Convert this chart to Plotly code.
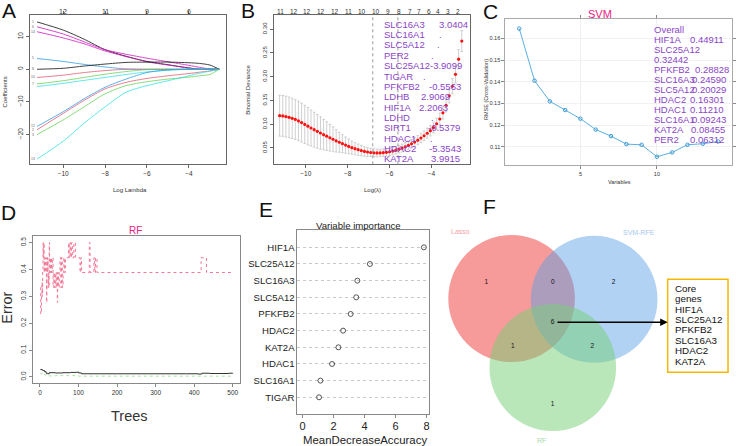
import plotly.graph_objects as go

# ---------------- DATA ----------------
# A: LASSO coefficient paths (log lambda grid)
lasso_loglam = [-11.25, -10.0, -9.0, -8.0, -7.0, -6.0, -5.0, -4.0, -3.5, -3.0, -2.55]
path_black1 = [14.5, 12.0, 9.2, 6.0, 4.0, 2.4, 1.4, 0.4, 0.0, 0.0, 0.0]
path_mag1 = [13.0, 10.8, 8.4, 6.0, 4.6, 3.4, 2.3, 1.2, 0.6, 0.1, 0.0]
path_mag2 = [11.5, 9.6, 7.8, 5.6, 3.9, 2.3, 1.3, 0.4, 0.0, 0.0, 0.0]
path_blue1 = [3.3, 2.4, 1.5, 0.7, 0.1, 0.0, 0.0, 0.0, 0.0, 0.0, 0.0]
path_black2 = [0.0, 0.3, 1.0, 1.6, 2.1, 2.2, 2.2, 2.0, 1.8, 1.3, 0.0]
path_red1 = [-2.5, -1.8, -1.0, -0.4, 0.0, 0.0, 0.0, 0.0, 0.0, 0.0, 0.0]
path_green1 = [-4.5, -3.5, -2.5, -1.5, -0.7, -0.1, 0.0, 0.0, 0.0, 0.0, 0.0]
path_cyan1 = [-5.3, -4.3, -3.4, -2.5, -1.6, -0.8, -0.3, 0.0, 0.0, 0.0, 0.0]
path_blue2 = [-17.5, -13.0, -9.0, -5.5, -3.0, -1.0, -0.2, 0.0, 0.0, 0.0, 0.0]
path_red2 = [-18.5, -13.5, -9.5, -6.0, -4.0, -2.8, -2.0, -1.3, -0.9, -0.5, 0.0]
path_green2 = [-20.0, -15.5, -11.5, -7.5, -5.0, -3.8, -3.0, -2.4, -2.0, -1.6, 0.0]
path_cyan2 = [-27.5, -22.0, -16.5, -11.5, -7.0, -5.0, -3.5, -2.0, -1.2, -0.6, 0.0]
lasso_paths = [path_black1, path_mag1, path_mag2, path_blue1, path_black2, path_red1,
               path_green1, path_cyan1, path_blue2, path_red2, path_green2, path_cyan2]
lasso_path_labels = ["1", "6", "14", "5", "8", "10", "7", "", "12", "2", "3", "13"]
lasso_top_ticks = [-10, -8, -6, -4]
lasso_top_labels = ["12", "11", "9", "6"]

# B: cross-validated binomial deviance
cv_loglam = [-11.25, -11.10, -10.95, -10.80, -10.65, -10.50, -10.35, -10.20, -10.05, -9.90,
             -9.75, -9.60, -9.45, -9.30, -9.15, -9.00, -8.85, -8.70, -8.55, -8.40,
             -8.25, -8.10, -7.95, -7.80, -7.65, -7.50, -7.35, -7.20, -7.05, -6.90,
             -6.75, -6.60, -6.45, -6.30, -6.15, -6.00, -5.85, -5.70, -5.55, -5.40,
             -5.25, -5.10, -4.95, -4.80, -4.65, -4.50, -4.35, -4.20, -4.05, -3.90,
             -3.75, -3.60, -3.45, -3.30, -3.15, -3.00, -2.85, -2.70, -2.55]
cv_mean = [0.118, 0.1175, 0.116, 0.1145, 0.1125, 0.110, 0.107, 0.1035, 0.0995, 0.0958,
           0.092, 0.0885, 0.085, 0.0815, 0.078, 0.0748, 0.0715, 0.0683, 0.065, 0.062,
           0.059, 0.056, 0.0533, 0.0507, 0.0484, 0.0463, 0.0445, 0.0428, 0.0415, 0.0405,
           0.0398, 0.0395, 0.0396, 0.040, 0.0408, 0.042, 0.0435, 0.0453, 0.0474, 0.0498,
           0.0525, 0.0555, 0.0588, 0.0625, 0.0665, 0.071, 0.0757, 0.081, 0.0865, 0.093,
           0.101, 0.111, 0.124, 0.140, 0.160, 0.180, 0.205, 0.237, 0.275]
cv_sd = [0.043, 0.043, 0.043, 0.0428, 0.0425, 0.042, 0.0415, 0.041, 0.0402, 0.0395,
         0.038, 0.0368, 0.0355, 0.034, 0.032, 0.030, 0.028, 0.026, 0.0235, 0.021,
         0.019, 0.017, 0.0155, 0.014, 0.013, 0.012, 0.011, 0.010, 0.0093, 0.0088,
         0.0084, 0.0082, 0.008, 0.008, 0.008, 0.008, 0.008, 0.008, 0.008, 0.0083,
         0.0086, 0.0089, 0.009, 0.0093, 0.0096, 0.010, 0.0103, 0.0106, 0.011, 0.0115,
         0.012, 0.0125, 0.013, 0.014, 0.015, 0.016, 0.018, 0.020, 0.022]
cv_top_pos = [-11.22, -10.55, -9.92, -9.25, -8.62, -7.97, -7.30, -6.65, -6.08, -5.57,
              -5.03, -4.57, -4.13, -3.68, -3.22, -2.75]
cv_top_labels = ["11", "12", "12", "12", "12", "11", "10", "10", "9", "8", "7", "7", "6", "4", "3", "2"]
cv_lambda_lines = [-6.8, -5.6]
cv_genes = ["SLC16A3", "SLC16A1", "SLC5A12", "PER2", "SLC25A12", "TIGAR", "PFKFB2",
            "LDHB", "HIF1A", "LDHD", "SIRT1", "HDAC1", "HDAC2", "KAT2A"]
cv_coefs = ["3.0404", ".", ".", ".", "-3.9099", ".", "-0.5563",
            "2.9069", "2.2063", ".", "-0.5379", ".", "-5.3543", "3.9915"]

# C: SVM-RFE
svm_vars = [1, 2, 3, 4, 5, 6, 7, 8, 9, 10, 11, 12, 13, 14]
svm_rmse = [0.1645, 0.1405, 0.131, 0.127, 0.123, 0.118, 0.115, 0.1113, 0.111, 0.1055,
            0.1075, 0.111, 0.1115, 0.1125]
svm_genes = ["HIF1A", "SLC25A12", "PFKFB2", "SLC16A3", "SLC5A12", "HDAC2", "HDAC1",
             "SLC16A1", "KAT2A", "PER2"]
svm_weights = ["0.44911", "0.32442", "0.28828", "0.24590", "0.20029", "0.16301", "0.11210",
               "0.09243", "0.08455", "0.06312"]

# D: random forest error
rf_red_trees = [1, 2, 4, 5, 6, 7, 8, 9, 10, 11, 12, 14, 15, 16, 17, 18, 19, 20, 21, 22,
                23, 24, 25, 26, 27, 28, 29, 30, 32, 34, 36, 38, 40, 42, 44, 45, 46, 48, 50,
                52, 54, 56, 58, 60, 62, 64, 66, 74, 76, 78, 80, 82, 84, 88, 92, 104, 106,
                108, 128, 130, 140, 142, 144, 148, 418, 432, 500]
rf_red_err = [0.333, 0.235, 0.30, 0.353, 0.30, 0.40, 0.50, 0.444, 0.50, 0.389, 0.444, 0.389,
              0.444, 0.389, 0.278, 0.444, 0.389, 0.444, 0.333, 0.389, 0.333, 0.50, 0.444,
              0.389, 0.444, 0.389, 0.444, 0.389, 0.444, 0.333, 0.389, 0.333, 0.389, 0.333,
              0.389, 0.278, 0.389, 0.333, 0.389, 0.444, 0.333, 0.444, 0.333, 0.389, 0.444,
              0.389, 0.444, 0.50, 0.444, 0.50, 0.444, 0.50, 0.444, 0.50, 0.444, 0.389,
              0.444, 0.389, 0.50, 0.389, 0.444, 0.389, 0.444, 0.389, 0.444, 0.389, 0.389]
rf_oob_trees = [1, 5, 8, 12, 16, 20, 24, 40, 60, 80, 95, 100, 108, 200, 380, 410, 420, 440, 480, 490, 500]
rf_oob_err = [0.028, 0.026, 0.024, 0.020, 0.014, 0.012, 0.016, 0.015, 0.016, 0.017, 0.018,
              0.015, 0.012, 0.012, 0.012, 0.011, 0.014, 0.013, 0.013, 0.014, 0.013]
rf_grn_trees = [1, 5, 12, 20, 40, 100, 500]
rf_grn_err = [0.012, 0.015, 0.008, 0.004, 0.005, 0.003, 0.003]

# E: variable importance
imp_genes = ["HIF1A", "SLC25A12", "SLC16A3", "SLC5A12", "PFKFB2", "HDAC2", "KAT2A",
             "HDAC1", "SLC16A1", "TIGAR"]
imp_values = [7.83, 4.35, 3.54, 3.47, 3.11, 2.62, 2.32, 1.91, 1.16, 1.07]

# F: Venn
venn_sets = ["Lasso", "SVM-RFE", "RF"]
venn_counts = [1, 0, 2, 6, 1, 2, 1]   # L, L&S, S, all, L&R, S&R, R
core_genes = ["HIF1A", "SLC25A12", "PFKFB2", "SLC16A3", "HDAC2", "KAT2A"]

# ---------------- STYLE / LAYOUT ----------------
W, H = 736, 446
FONT = "Liberation Sans, Arial, sans-serif"
PURPLE = "#8b45c8"
PINK = "#e8207f"
R_COLS = ["#000000", "#CD0BBC", "#CD0BBC", "#2297E6", "#000000", "#DF536B",
          "#61D04F", "#28E2E5", "#2297E6", "#DF536B", "#61D04F", "#28E2E5"]
OVER_SIZE = 9.5


def fx(px):
    return px / W


def fy(py):
    return 1 - py / H


fig = go.Figure()
annotations = []
shapes = []


def ann(text, px, py, size, color="#222", xa="center", ya="middle", angle=0, **kw):
    annotations.append(dict(text=text, x=fx(px), y=fy(py), xref="paper", yref="paper",
                            showarrow=False, xanchor=xa, yanchor=ya, textangle=angle,
                            font=dict(size=size, color=color, family=FONT), **kw))


# ---- A ----
for i, path in enumerate(lasso_paths):
    fig.add_trace(go.Scatter(x=lasso_loglam, y=path, mode="lines", xaxis="x", yaxis="y",
                             line=dict(color=R_COLS[i], width=1, shape="spline", smoothing=0.7),
                             opacity=0.75, hoverinfo="skip"))
    if lasso_path_labels[i]:
        annotations.append(dict(text=lasso_path_labels[i], x=-11.45, y=path[0], xref="x", yref="y",
                                showarrow=False, font=dict(size=3.5, color="#666", family=FONT)))
for v, t in zip(lasso_top_ticks, lasso_top_labels):
    annotations.append(dict(text=t, x=v, y=fy(6), xref="x", yref="paper", showarrow=False,
                            font=dict(size=7, color="#333", family=FONT)))

# ---- B ----
fig.add_trace(go.Scatter(x=cv_loglam, y=cv_mean, mode="markers", xaxis="x2", yaxis="y2",
                         marker=dict(color="#ff1010", size=3.2),
                         error_y=dict(type="data", array=cv_sd, symmetric=True, color="#c4c4c4",
                                      thickness=0.8, width=1.3),
                         hoverinfo="skip"))
for v in cv_lambda_lines:
    shapes.append(dict(type="line", xref="x2", yref="y2 domain", x0=v, x1=v, y0=0, y1=1,
                       line=dict(color="#9a9a9a", width=1, dash="dot")))
for v, t in zip(cv_top_pos, cv_top_labels):
    annotations.append(dict(text=t, x=v, y=fy(6), xref="x2", yref="paper", showarrow=False,
                            font=dict(size=6.5, color="#333", family=FONT)))
coef_x = [437.7, 438.3, 435.7, 430, 429.5, 421.7, 428.5, 420, 417.7, 430, 427.5, 429, 428.5, 430]
for i, (g, c) in enumerate(zip(cv_genes, cv_coefs)):
    yy = 24.3 + i * 10.34
    ann(g, 383.3, yy, OVER_SIZE, PURPLE, xa="left")
    ann(c, coef_x[i], yy, OVER_SIZE, PURPLE, xa="left")

# ---- C ----
fig.add_trace(go.Scatter(x=svm_vars, y=svm_rmse, mode="lines+markers", xaxis="x3", yaxis="y3",
                         line=dict(color="#5cb0e2", width=1),
                         marker=dict(symbol="circle-open", size=3.5, color="#3d9bd6", line=dict(width=1)),
                         hoverinfo="skip"))
c_lines = [("Overall", None)]
for g, w in zip(svm_genes, svm_weights):
    if g == "SLC25A12":
        c_lines.append((g, None))
        c_lines.append((w, None))
    else:
        c_lines.append((g, w))
val_x = {"HIF1A": 690, "PFKFB2": 695, "SLC16A3": 692, "SLC5A12": 692, "HDAC2": 690,
         "HDAC1": 690, "SLC16A1": 692, "KAT2A": 691.3, "PER2": 690}
for i, (g, w) in enumerate(c_lines):
    yy = 29.3 + i * 10.06
    ann(g, 653.3, yy, OVER_SIZE, PURPLE, xa="left")
    if w is not None:
        ann(w, val_x[g], yy, OVER_SIZE, PURPLE, xa="left")

# ---- D ----
fig.add_trace(go.Scatter(x=rf_grn_trees, y=rf_grn_err, mode="lines", xaxis="x4", yaxis="y4",
                         line=dict(color="#a8e6a0", width=1, dash="dot", shape="hv"), hoverinfo="skip"))
fig.add_trace(go.Scatter(x=rf_red_trees, y=rf_red_err, mode="lines", xaxis="x4", yaxis="y4",
                         line=dict(color="#f27896", width=1, dash="dot", shape="hv"), hoverinfo="skip"))
fig.add_trace(go.Scatter(x=rf_oob_trees, y=rf_oob_err, mode="lines", xaxis="x4", yaxis="y4",
                         line=dict(color="#333333", width=1, shape="hv"), hoverinfo="skip"))

# ---- E ----
imp_rows = list(range(1, len(imp_genes) + 1))
fig.add_trace(go.Scatter(x=imp_values, y=imp_rows, mode="markers", xaxis="x5", yaxis="y5",
                         marker=dict(symbol="circle-open", size=5, color="#444", line=dict(width=0.9)),
                         hoverinfo="skip"))

# ---- F ----
circles = [(513.0, 298.5, "rgba(238,62,62,0.52)"),
           (595.8, 299.3, "rgba(92,160,228,0.48)"),
           (554.3, 367.5, "rgba(118,208,118,0.5)")]
R = 63.5
for cx, cy, col in circles:
    shapes.append(dict(type="circle", xref="x6", yref="y6", x0=cx - R, x1=cx + R,
                       y0=cy - R, y1=cy + R, fillcolor=col, line=dict(width=0), layer="below"))
count_pos = [(487.7, 282.7), (554.3, 282.0), (615.3, 282.0), (554.0, 322.3),
             (514.3, 346.0), (594.0, 346.0), (554.0, 404.0)]
fig.add_trace(go.Scatter(x=[p[0] for p in count_pos], y=[p[1] for p in count_pos],
                         text=[str(c) for c in venn_counts], mode="text", xaxis="x6", yaxis="y6",
                         textfont=dict(size=6.5, color="#111", family=FONT), hoverinfo="skip"))
set_label_pos = [(461.7, 232.0, "#f5a3a8"), (640.7, 232.3, "#a9c9ee"), (543.3, 440.7, "#a8dca8")]
for name, (px, py, col) in zip(venn_sets, set_label_pos):
    ann(name, px, py, 7, col)
annotations.append(dict(x=669.5, y=322.3, ax=557.5, ay=322.3, xref="x6", yref="y6",
                        axref="x6", ayref="y6", text="", showarrow=True, arrowhead=2,
                        arrowsize=1, arrowwidth=1.5, arrowcolor="#000"))
shapes.append(dict(type="rect", xref="paper", yref="paper", x0=fx(669.5), x1=fx(730),
                   y0=fy(372.3), y1=fy(279.3), line=dict(color="#f5b800", width=1.5)))
box_lines = ["Core", "genes"] + core_genes
for i, t in enumerate(box_lines):
    ann(t, 675.3, 288.3 + i * 10.4, 9.8, "#111", xa="left")

# ---- titles & labels ----
ann("A", 9, 11, 21, "#111")
ann("B", 249, 11, 21, "#111")
ann("C", 492, 12, 21, "#111")
ann("D", 9, 213, 21, "#111")
ann("E", 267, 209, 21, "#111")
ann("F", 491, 206, 21, "#111")

ann("Log Lambda", 130, 190.5, 6, "#333")
ann("Coefficients", 5.5, 92, 6, "#333", angle=-90)
ann("Log(\u03bb)", 373.3, 190.5, 6, "#333")
ann("Binomial Deviance", 248.5, 90, 6, "#333", angle=-90)
ann("SVM", 601.7, 14, 11, PINK)
ann("RMSE (Cross-Validation)", 487.3, 89, 5.5, "#333", angle=-90)
ann("Variables", 620.7, 182, 5.5, "#333")
ann("RF", 135.5, 230, 10, PINK)
ann("Error", 7.5, 307.3, 14.5, "#333", angle=-90)
ann("Trees", 130, 416, 14.5, "#333")
ann("Variable importance", 359, 225.7, 9.6, "#222")
ann("MeanDecreaseAccuracy", 366, 440, 11.4, "#222")

# ---- axes ----
def ax(**kw):
    d = dict(showgrid=False, zeroline=False, showline=True, linecolor="#666", linewidth=1,
             ticks="outside", ticklen=3, tickcolor="#666", tickwidth=1,
             tickfont=dict(size=7, color="#333", family=FONT), mirror=True)
    d.update(kw)
    return d

layout_axes = dict(
    xaxis=ax(domain=[fx(30), fx(227)], range=[-11.59, -2.21], anchor="y",
             tickvals=[-10, -8, -6, -4], mirror="ticks", tickfont=dict(size=6.5, color="#333", family=FONT)),
    yaxis=ax(domain=[fy(164), fy(15)], range=[-29.0, 16.62], anchor="x",
             tickvals=[-20, -10, 0, 10], tickangle=-90, tickfont=dict(size=6.5, color="#333", family=FONT)),
    xaxis2=ax(domain=[fx(274.3), fx(471)], range=[-11.54, -2.17], anchor="y2",
              tickvals=[-10, -8, -6, -4], tickfont=dict(size=6.5, color="#333", family=FONT)),
    yaxis2=ax(domain=[fy(164.3), fy(15)], range=[0.0156, 0.330], anchor="x2",
              tickvals=[0.05, 0.10, 0.15, 0.20, 0.25, 0.30],
              ticktext=["0.05", "0.10", "0.15", "0.20", "0.25", "0.30"], tickangle=-90,
              tickfont=dict(size=6, color="#333", family=FONT)),
    xaxis3=ax(domain=[fx(506.7), fx(734)], range=[0.09, 14.91], anchor="y3", tickvals=[5, 10],
              mirror="ticks", showgrid=True, gridcolor="#efefef", linecolor="#aaa", tickcolor="#888",
              tickfont=dict(size=5.5, color="#333", family=FONT)),
    yaxis3=ax(domain=[fy(165), fy(19)], range=[0.1017, 0.1689], anchor="x3",
              tickvals=[0.11, 0.12, 0.13, 0.14, 0.15, 0.16],
              ticktext=["0.11", "0.12", "0.13", "0.14", "0.15", "0.16"],
              mirror="ticks", showgrid=True, gridcolor="#f2f2f2", linecolor="#aaa", tickcolor="#888",
              tickfont=dict(size=5.5, color="#333", family=FONT)),
    xaxis4=ax(domain=[fx(32.7), fx(240.7)], range=[-19, 519], anchor="y4",
              tickvals=[0, 100, 200, 300, 400, 500], linecolor="#888", tickcolor="#888",
              tickfont=dict(size=6.5, color="#333", family=FONT)),
    yaxis4=ax(domain=[fy(383.3), fy(236)], range=[-0.0235, 0.525], anchor="x4",
              tickvals=[0, 0.1, 0.2, 0.3, 0.4, 0.5],
              ticktext=["0.0", "0.1", "0.2", "0.3", "0.4", "0.5"], tickangle=-90,
              linecolor="#888", tickcolor="#888", tickfont=dict(size=6.5, color="#333", family=FONT)),
    xaxis5=ax(domain=[fx(298.3), fx(430)], range=[-0.32, 8.15], anchor="y5",
              tickvals=[0, 2, 4, 6, 8], linecolor="#888", tickcolor="#888", ticklen=3,
              ticklabelstandoff=-2,
              tickfont=dict(size=11, color="#222", family=FONT)),
    yaxis5=ax(domain=[fy(414.3), fy(230)], range=[11.02, -0.04], anchor="x5",
              tickvals=imp_rows, ticktext=imp_genes, ticks="", showgrid=True,
              gridcolor="#c8c8c8", griddash="dot", gridwidth=1, linecolor="#888",
              tickfont=dict(size=9.6, color="#222", family=FONT)),
    xaxis6=dict(domain=[fx(440), fx(736)], range=[440, 736], anchor="y6", visible=False, fixedrange=True),
    yaxis6=dict(domain=[fy(446), fy(222)], range=[446, 222], anchor="x6", visible=False, fixedrange=True),
)

fig.update_layout(
    width=W, height=H, autosize=False,
    margin=dict(l=0, r=0, t=0, b=0),
    paper_bgcolor="white", plot_bgcolor="white",
    showlegend=False,
    annotations=annotations, shapes=shapes,
    font=dict(family=FONT),
    **layout_axes,
)

fig.write_html("out.html")
